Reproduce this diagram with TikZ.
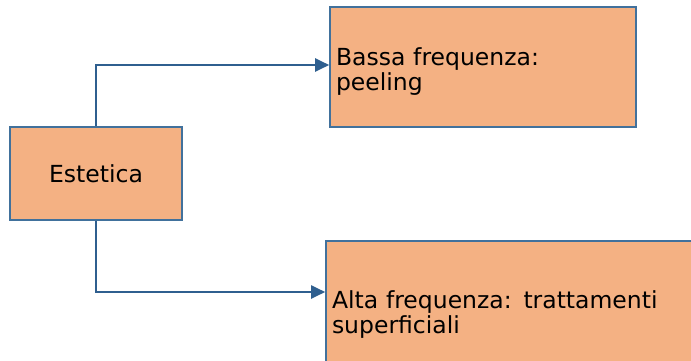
\documentclass[tikz,border=0pt]{standalone}
\usepackage{fontspec}
\setmainfont{DejaVu Sans}
\usetikzlibrary{arrows.meta,positioning,calc}
\definecolor{boxFill}{HTML}{F4B183}
\definecolor{boxLine}{HTML}{41719C}
\definecolor{linkBlue}{HTML}{2F5F8F}

\begin{document}
\begin{tikzpicture}[x=1pt,y=-1pt,>={Triangle[length=14pt,width=13pt]},
    line join=miter,font=\fontsize{23.5}{25}\selectfont,
    bluebox/.style={draw=boxLine,fill=boxFill,line width=1.6pt,
                    rectangle,inner sep=0pt},
    textbox/.style={bluebox,align=left,inner xsep=6pt,
                    text width=#1-12pt,minimum width=#1},
    link/.style={draw=linkBlue,line width=2pt,->}]
    \useasboundingbox (0,0) rectangle (691,360);
    % source box on the left
    \node[bluebox,minimum width=172pt,minimum height=93pt] (estetica)
       at (96,173.5) {Estetica};
    % the two targets
    \node[textbox=306pt,minimum height=120pt] (bassa) at (483,67)
       {\rule{0pt}{26pt}Bassa frequenza:\\peeling};
    \node[textbox=380pt,minimum height=139pt] (alta) at (516,310.5)
       {\rule{0pt}{26pt}Alta frequenza: trattamenti\\superficiali};
    % elbow connectors
    \draw[link] (estetica.north) |- ([yshift=2pt]bassa.west);
    \draw[link] (estetica.south) |- ([yshift=18.5pt]alta.west);
\end{tikzpicture}
\end{document}
